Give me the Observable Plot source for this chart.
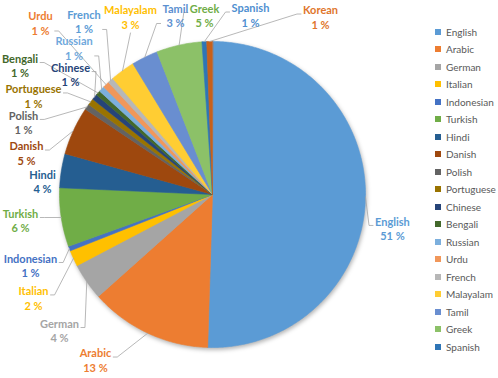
<!DOCTYPE html>
<html><head><meta charset="utf-8">
<script src="https://cdn.jsdelivr.net/npm/d3@7"></script>
<script src="https://cdn.jsdelivr.net/npm/@observablehq/plot@0.6"></script>
<style>
body{margin:0;background:#fff;}
#wrap{position:relative;width:498px;height:378px;overflow:hidden;}
#chart{position:absolute;left:0;top:0;}
#legend{position:absolute;left:435px;top:23px;font:10px Lato, sans-serif;color:#595959;}
.item{height:17.5px;display:flex;align-items:center;white-space:nowrap;}
.sw{width:6px;height:6px;margin-right:5px;flex:none;}
</style></head><body>
<div id="wrap"><div id="chart"></div><div id="legend"></div></div>
<script>
// ---- data ----
const languages = ["English","Arabic","German","Italian","Indonesian","Turkish","Hindi","Danish","Polish","Portuguese","Chinese","Bengali","Russian","Urdu","French","Malayalam","Tamil","Greek","Spanish","Korean"];
const shares = [50.5,12.9,3.9,1.7,0.5,6.2,3.6,5.1,0.6,0.7,0.6,0.5,0.6,0.7,0.6,2.6,2.8,4.8,0.5,0.6];
const pctLabels = ["51 %","13 %","4 %","2 %","1 %","6 %","4 %","5 %","1 %","1 %","1 %","1 %","1 %","1 %","1 %","3 %","3 %","5 %","1 %","1 %"];
const legendCount = 19; // Korean is cut off in the legend
// ---- style / layout ----
const colors = ["#5B9BD5","#ED7D31","#A5A5A5","#FFC000","#4472C4","#70AD47","#255E91","#9E480E","#636363","#997300","#264478","#43682B","#7CAFDD","#F1975A","#B7B7B7","#FFCD33","#698ED0","#8CC168","#2E75B6","#C8601A"];
const labelColors = ["#5B9BD5","#ED7D31","#A5A5A5","#FFC000","#4472C4","#70AD47","#255E91","#9E480E","#636363","#997300","#264478","#43682B","#6FA8DC","#ED7D31","#5B9BD5","#FFC000","#5B8FD0","#70AD47","#4F8FD0","#E0762C"];
// label centres in pie-radius units (x right, y up)
const labelX = [1.176,-0.765,-1.000,-1.170,-1.190,-1.255,-1.111,-1.216,-1.235,-1.170,-0.928,-1.258,-0.905,-1.124,-0.840,-0.536,-0.242,-0.052,0.248,0.706];
const labelY = [-0.222,-1.082,-0.889,-0.676,-0.464,-0.170,0.085,0.271,0.471,0.644,0.784,0.843,0.958,1.121,1.131,1.160,1.170,1.170,1.173,1.160];

const CX = 212, CY = 194, R = 153;
const pie = d3.pie().sort(null).value(d => d)(shares);

const slices = [];
pie.forEach((p, i) => {
  const lang = languages[i];
  slices.push({lang, x: 0, y: 0});
  const n = Math.max(2, Math.ceil((p.endAngle - p.startAngle) / 0.01));
  for (let k = 0; k <= n; k++) {
    const a = p.startAngle + (p.endAngle - p.startAngle) * k / n;
    slices.push({lang, x: Math.sin(a), y: Math.cos(a)});
  }
});

const ctx = document.createElement("canvas").getContext("2d");
ctx.font = "bold 11px Lato";
const labels = languages.map((lang, i) => ({lang, text: lang + "\n" + pctLabels[i], x: labelX[i], y: labelY[i], color: labelColors[i]}));

const leaders = [];
pie.forEach((p, i) => {
  const m = (p.startAngle + p.endAngle) / 2;
  const ax = CX + R * Math.sin(m), ay = CY - R * Math.cos(m);
  const lx = CX + R * labelX[i], ly = CY - R * labelY[i];
  const w = Math.max(ctx.measureText(languages[i]).width, ctx.measureText(pctLabels[i]).width);
  const h = 30;
  const L = lx - w / 2, Rt = lx + w / 2, T = ly - h / 2, B = ly + h / 2;
  let pts;
  const yy = ay > B + 20 && ly < 110 ? ly + 8 : ly - 3;
  if (ax > Rt + 2) pts = [[Rt + 2, yy], [Rt + 6, yy], [ax, ay]];
  else if (ax < L - 2) pts = [[L - 2, yy], [L - 6, yy], [ax, ay]];
  else if (ay > B) pts = [[lx, B + 1], [ax, ay]];
  else pts = [[lx, T - 1], [ax, ay]];
  if (Math.hypot(pts[0][0] - ax, pts[0][1] - ay) < 12) return;
  pts.forEach(([px, py]) => leaders.push({lang: languages[i], x: (px - CX) / R, y: (CY - py) / R}));
});

const chart = Plot.plot({
  width: 498, height: 378, margin: 0,
  style: {background: "transparent", overflow: "visible"},
  x: {domain: [-1, 1], range: [CX - R, CX + R], axis: null},
  y: {domain: [-1, 1], range: [CY + R, CY - R], axis: null},
  color: {domain: languages, range: colors},
  marks: [
    Plot.line(slices, {x: "x", y: "y", z: "lang", fill: "lang", stroke: "lang", strokeWidth: 0.6, curve: "linear-closed"}),
    Plot.line(leaders, {x: "x", y: "y", z: "lang", stroke: "#A6A6A6", strokeWidth: 0.8}),
    Plot.text(labels, {x: "x", y: "y", text: "text", fill: d => d.color, fontWeight: "bold", fontSize: 11, fontFamily: "Lato", lineHeight: 1.32, textAnchor: "middle"})
  ]
});
document.getElementById("chart").appendChild(chart);
const g = chart.querySelectorAll('g[aria-label="line"]')[0];
if (g) g.style.filter = "drop-shadow(1px 2px 2px rgba(0,0,0,0.3))";

const legend = document.getElementById("legend");
languages.slice(0, legendCount).forEach((lang, i) => {
  const it = document.createElement("div"); it.className = "item";
  const sw = document.createElement("div"); sw.className = "sw"; sw.style.background = colors[i];
  it.appendChild(sw); it.appendChild(document.createTextNode(lang));
  legend.appendChild(it);
});
</script>
</body></html>
